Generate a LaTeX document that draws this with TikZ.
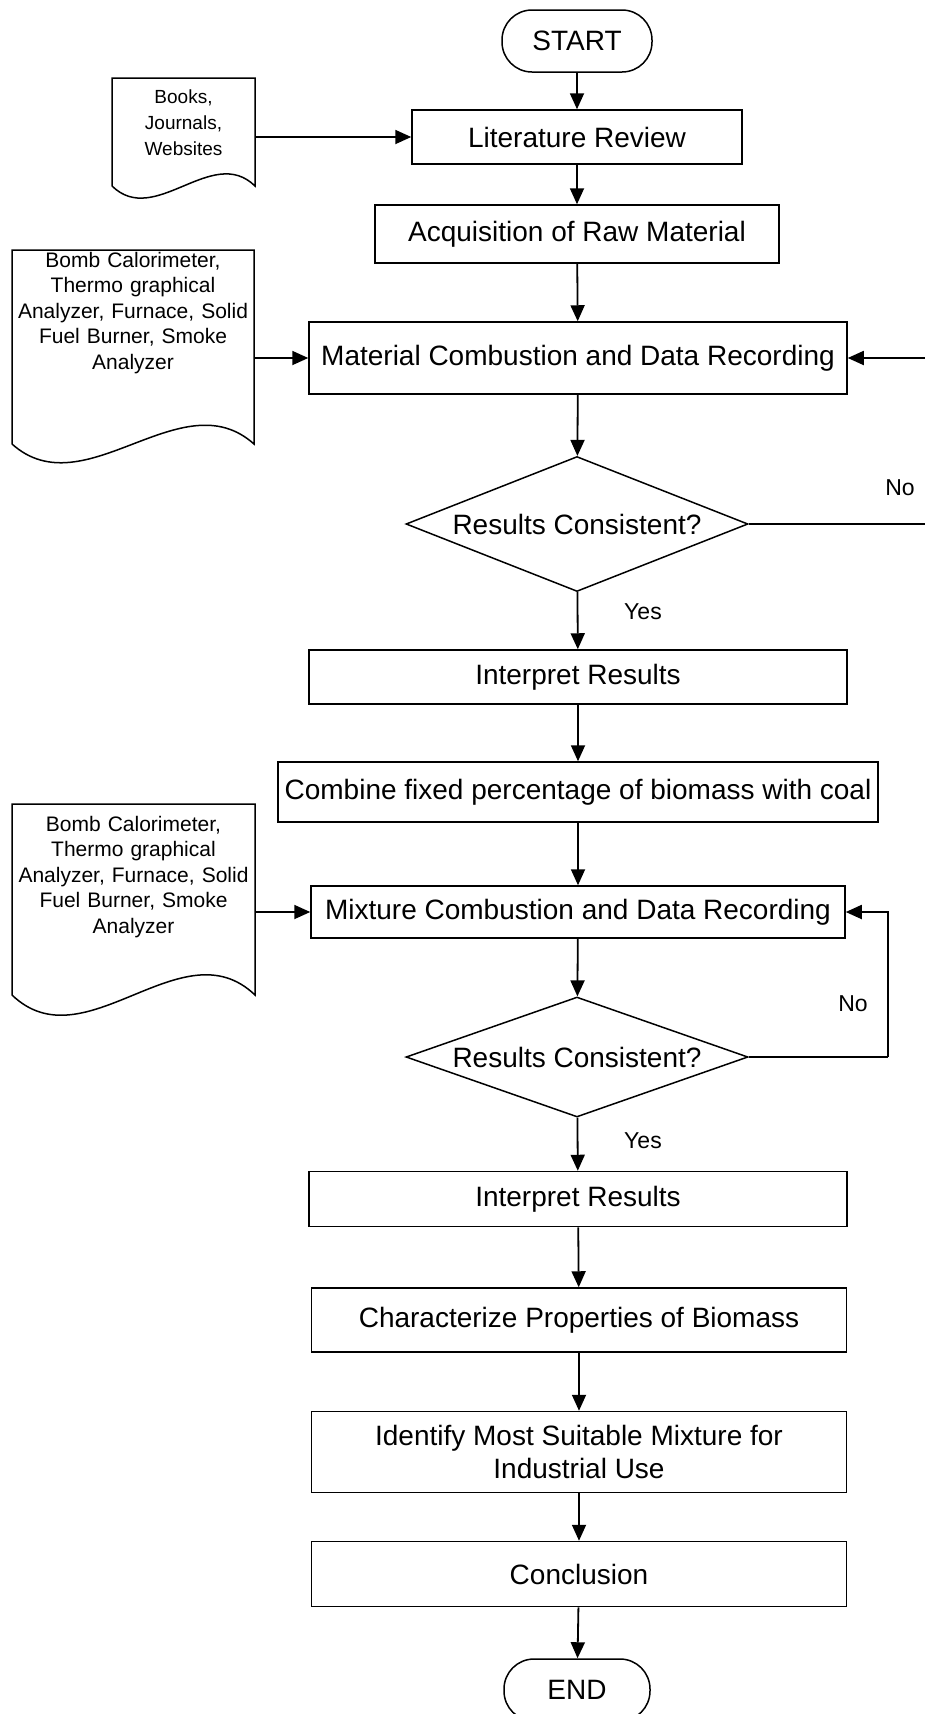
\documentclass[tikz,border=0pt]{standalone}
\usepackage{fontspec}
\setmainfont{Liberation Sans}
\usetikzlibrary{shapes.geometric,arrows.meta}

% outline of a document symbol: left, right, top, bottom, wave
\newcommand{\docshape}[5]{%
  \draw[line width=1.5pt] (#1,#4) -- (#1,#3) -- (#2,#3) -- (#2,#4)
    .. controls ({#1+0.7*(#2-#1)},{#4-#5}) and ({#1+0.3*(#2-#1)},{#4+#5}) .. (#1,#4);}

\begin{document}
\begin{tikzpicture}[x=1pt,y=-1pt,
  proc/.style = {draw, rectangle, line width=1.5pt, inner sep=0pt, align=center,
                 font=\fontsize{28}{33}\selectfont},
  term/.style = {draw, rectangle, rounded corners=30pt, line width=1.5pt, inner sep=0pt,
                 minimum width=150pt, minimum height=62pt, font=\fontsize{28}{33}\selectfont},
  dec/.style = {draw, diamond, line width=1.5pt, inner sep=0pt, minimum width=342pt,
                font=\fontsize{28}{33}\selectfont},
  src/.style = {inner sep=0pt, align=center},
  lbl/.style = {font=\fontsize{23}{27}\selectfont},
  arr/.style = {line width=1.8pt, -{Triangle[length=16pt,width=14pt]}},
  line/.style = {line width=1.8pt}]
\useasboundingbox (0,0) rectangle (924,1714);

% main column
\node[term] (start) at (577,41) {START};
\node[proc, minimum width=330pt, minimum height=54pt] (lit) at (577,137) {Literature Review};
\node[proc, minimum width=404pt, minimum height=58pt] (acq) at (577,234) {Acquisition of Raw Material};
\node[proc, minimum width=538pt, minimum height=72pt] (mat) at (578,358) {Material Combustion and Data Recording};
\node[dec, minimum height=135pt, aspect=2.5] (dec1) at (577,524) {Results Consistent?};
\node[proc, minimum width=538pt, minimum height=54pt] (int1) at (578,677) {Interpret Results};
\node[proc, minimum width=600pt, minimum height=60pt] (comb) at (578,792) {Combine fixed percentage of biomass with coal};
\node[proc, minimum width=534pt, minimum height=52pt] (mix) at (578,912) {Mixture Combustion and Data Recording};
\node[dec, minimum height=120pt, aspect=2.9] (dec2) at (577,1057) {Results Consistent?};
\node[proc, minimum width=538pt, minimum height=55pt] (int2) at (578,1199) {Interpret Results};
\node[proc, minimum width=535pt, minimum height=64pt] (char) at (579,1320) {Characterize Properties of Biomass};
\node[proc, minimum width=535pt, minimum height=81pt] (ident) at (579,1452) {Identify Most Suitable Mixture for\\Industrial Use};
\node[proc, minimum width=535pt, minimum height=65pt] (concl) at (579,1574) {Conclusion};
\node[term, minimum width=146pt] (end) at (577,1690) {END};

% sources on the left
\docshape{112}{255}{78}{186}{42}
\node[src, text width=143pt, font=\fontsize{19}{26}\selectfont] (books) at (183.5,123) {Books,\\Journals,\\Websites};
\docshape{12}{254}{250}{444}{65}
\node[src, text width=242pt, font=\fontsize{21}{25.5}\selectfont] (bomb1) at (133,313)
  {Bomb Calorimeter,\\Thermo graphical\\Analyzer, Furnace, Solid\\Fuel Burner, Smoke\\Analyzer};
\docshape{12}{255}{804}{995}{70}
\node[src, text width=243pt, font=\fontsize{21}{25.5}\selectfont] (bomb2) at (133.5,877)
  {Bomb Calorimeter,\\Thermo graphical\\Analyzer, Furnace, Solid\\Fuel Burner, Smoke\\Analyzer};

% loop points
\coordinate (loop1) at (932,524);
\coordinate (loop2) at (888,1057);

% labels
\node[lbl] (no1) at (900,488) {No};
\node[lbl] (yes1) at (643,612) {Yes};
\node[lbl] (no2) at (853,1004) {No};
\node[lbl] (yes2) at (643,1141) {Yes};

% connectors
\draw[arr] (start) -- (lit);
\draw[arr] (books.east |- lit) -- (lit);
\draw[arr] (lit) -- (acq);
\draw[arr] (acq) -- (mat);
\draw[arr] (bomb1.east |- mat) -- (mat);
\draw[arr] (mat) -- (dec1);
\draw[arr] (dec1) -- (int1);
\draw[line] (dec1.east) -- (loop1);
\draw[arr] (loop1) |- (mat.east);
\draw[arr] (int1) -- (comb);
\draw[arr] (comb) -- (mix);
\draw[arr] (bomb2.east |- mix) -- (mix);
\draw[arr] (mix) -- (dec2);
\draw[line] (dec2.east) -- (loop2);
\draw[arr] (loop2) |- (mix.east);
\draw[arr] (dec2) -- (int2);
\draw[arr] (int2) -- (char);
\draw[arr] (char) -- (ident);
\draw[arr] (ident) -- (concl);
\draw[arr] (concl) -- (end);
\end{tikzpicture}
\end{document}
